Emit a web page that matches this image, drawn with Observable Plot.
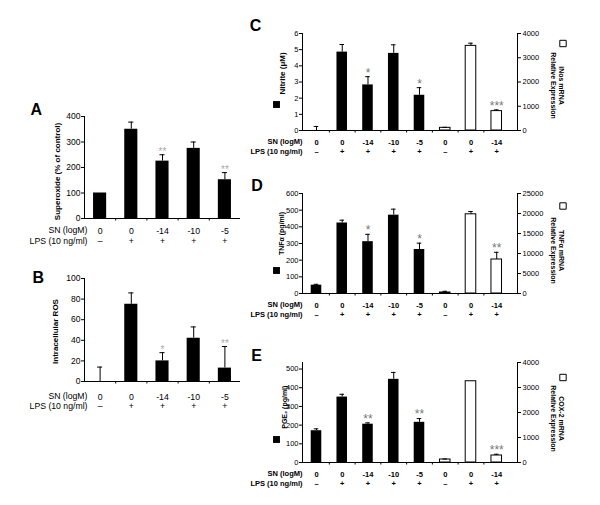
<!DOCTYPE html>
<html><head><meta charset="utf-8">
<script src="https://cdn.jsdelivr.net/npm/d3@7"></script>
<script src="https://cdn.jsdelivr.net/npm/@observablehq/plot@0.6"></script>
<style>
body{margin:0;background:#fff}
#fig{position:relative;width:600px;height:505px;overflow:hidden;background:#fff}
</style></head><body><div id="fig"></div>
<script>
// ---------- data ----------
const snAB = ["0", "0", "-14", "-10", "-5"];
const lpsAB = ["–", "+", "+", "+", "+"];
const snCDE = ["0", "0", "-14", "-10", "-5", "0", "0", "-14"];
const lpsCDE = ["–", "+", "+", "+", "+", "–", "+", "+"];

// A: Superoxide (% of control)
const superoxide = [100, 350, 225, 275, 152];
const superoxideErr = [null, 378, 250, 300, 180];
const superoxideSig = ["", "", "**", "", "**"];
const ticksA = [0, 100, 200, 300, 400];

// B: Intracellular ROS
const ros = [0, 75, 20, 42, 13];
const rosErr = [14, 86, 28, 53, 34];
const rosSig = ["", "", "*", "", "**"];
const ticksB = [0, 20, 40, 60, 80, 100];

// C: Nitrite (black) and iNos mRNA (white)
const nitrite = [0, 4.85, 2.82, 4.77, 2.18];
const nitriteErr = [0.25, 5.32, 3.33, 5.3, 2.65];
const nitriteSig = ["", "", "*", "", "*"];
const inos = [110, 3490, 800];
const inosErr = [130, 3600, 850];
const inosSig = ["", "", "***"];
const ticksCL = [0, 1, 2, 3, 4, 5, 6];
const ticksCR = [0, 1000, 2000, 3000, 4000];

// D: TNFα (black) and TNFα mRNA (white)
const tnf = [50, 423, 311, 470, 264];
const tnfErr = [55, 440, 355, 506, 302];
const tnfSig = ["", "", "*", "", "*"];
const tnfMrna = [250, 19800, 8500];
const tnfMrnaErr = [550, 20500, 10300];
const tnfMrnaSig = ["", "", "**"];
const ticksDL = [0, 100, 200, 300, 400, 500, 600];
const ticksDR = [0, 5000, 10000, 15000, 20000, 25000];

// E: PGE2 (black) and COX-2 mRNA (white)
const pge2 = [170, 350, 205, 445, 215];
const pge2Err = [180, 365, 212, 482, 235];
const pge2Sig = ["", "", "**", "", "**"];
const cox2 = [120, 3250, 280];
const cox2Err = [140, null, 330];
const cox2Sig = ["", "", "***"];
const ticksEL = [0, 100, 200, 300, 400, 500];
const ticksER = [0, 1000, 2000, 3000, 4000];

// ---------- helpers ----------
const FONT = "'Liberation Sans', Arial, Helvetica, sans-serif";
const fig = document.getElementById("fig");

function rowsOf(vals, errs, sigs, offset) {
  return vals.map((v, k) => ({i: offset + k, v, e: errs[k], s: sigs[k]}));
}

function place(svg, left, top) {
  svg.style.position = "absolute";
  svg.style.left = left + "px";
  svg.style.top = top + "px";
  svg.style.background = "transparent";
  svg.style.overflow = "visible";
  svg.style.maxWidth = "none";
  fig.appendChild(svg);
}

function xScale(g) {
  return {type: "band", domain: d3.range(g.n), paddingInner: g.pi, paddingOuter: g.po, align: g.align, round: false};
}

const plain = d => String(d);

function leftPanel(g, p) {
  const idx = d3.range(g.n);
  const step = (g.width - g.ml - g.mr) / (g.n - g.pi + 2 * g.po);
  const frameH = g.height - g.mt - g.mb;
  const rows = p.rows;
  const withErr = rows.filter(d => d.e != null);
  const marks = [
    Plot.barY(rows, {x: "i", y: "v", fill: "black"}),
    Plot.ruleX(withErr, {x: "i", y1: "v", y2: "e", stroke: "black", strokeWidth: 1}),
    Plot.tickY(withErr, {x: "i", y: "e", stroke: "black", strokeWidth: 1, inset: g.capInset}),
    Plot.text(rows.filter(d => d.s), {x: "i", y: d => d.e ?? d.v, text: "s", fontSize: g.sigSize, fill: g.sigColor, dy: g.sigDy}),
    Plot.ruleY([0], {stroke: "black"}),
    Plot.frame({anchor: "left", stroke: "black"}),
    Plot.axisY({ticks: p.ticks, tickFormat: plain, tickSize: 3, tickPadding: 1, label: null, fontSize: g.tickFs, fill: "black"}),
    Plot.tickX(idx.slice(1), {x: d => d, dx: -step / 2, insetTop: frameH, insetBottom: -2.5, stroke: "black"}),
    Plot.axisX({ticks: idx, tickSize: 0, tickPadding: g.snPad, tickFormat: i => p.sn[i], label: null, fontSize: g.rowFs, fontWeight: g.rowWeight, fill: "black"}),
    Plot.axisX({ticks: idx, tickSize: 0, tickPadding: g.lpsPad, tickFormat: i => p.lps[i], label: null, fontSize: g.rowFs, fontWeight: g.rowWeight, fill: "black"}),
    Plot.text(["SN (logM)"], {text: d => d, frameAnchor: "bottom-left", textAnchor: "end", lineAnchor: "middle", dx: g.hdrDx, dy: g.snDy, fontSize: g.rowFs, fontWeight: g.rowWeight, fill: "black"}),
    Plot.text(["LPS (10 ng/ml)"], {text: d => d, frameAnchor: "bottom-left", textAnchor: "end", lineAnchor: "middle", dx: g.hdrDx, dy: g.lpsDy, fontSize: g.rowFs, fontWeight: g.rowWeight, fill: "black"}),
    Plot.text([p.title], {text: d => d, frameAnchor: p.titleAnchor, textAnchor: "middle", lineAnchor: "middle", rotate: -90, dx: p.titleDx, dy: p.titleDy, fontSize: g.titleFs, fontWeight: "bold", fill: "black"}),
    Plot.text([p.letter], {text: d => d, frameAnchor: "top-left", textAnchor: "start", lineAnchor: "middle", dx: p.letterDx, dy: p.letterDy, fontSize: 16, fontWeight: "bold", fill: "black"})
  ];
  if (p.square) {
    marks.push(Plot.dot([0], {frameAnchor: "top-left", symbol: "square", r: 3.9, fill: "black", stroke: "none", dx: p.square[0], dy: p.square[1]}));
  }
  const svg = Plot.plot({
    width: g.width, height: g.height,
    marginLeft: g.ml, marginRight: g.mr, marginTop: g.mt, marginBottom: g.mb,
    style: {fontFamily: FONT, fontSize: g.tickFs + "px", color: "black"},
    x: xScale(g),
    y: {domain: p.domain},
    marks
  });
  place(svg, g.left, g.top);
}

function rightPanel(g, p) {
  const rows = p.rows;
  const withErr = rows.filter(d => d.e != null);
  const svg = Plot.plot({
    width: g.width, height: g.height,
    marginLeft: g.ml, marginRight: g.mr, marginTop: g.mt, marginBottom: g.mb,
    style: {fontFamily: FONT, fontSize: g.tickFs + "px", color: "black"},
    x: {...xScale(g), axis: null},
    y: {domain: p.domain},
    marks: [
      Plot.barY(rows, {x: "i", y: "v", fill: "white", stroke: "black", strokeWidth: 1}),
      Plot.ruleX(withErr, {x: "i", y1: "v", y2: "e", stroke: "black"}),
      Plot.tickY(withErr, {x: "i", y: "e", stroke: "black", inset: g.capInset}),
      Plot.text(rows.filter(d => d.s), {x: "i", y: d => d.e ?? d.v, text: "s", fontSize: g.sigSize, fill: g.sigColor, dy: g.sigDy}),
      Plot.frame({anchor: "right", stroke: "black"}),
      Plot.axisY({anchor: "right", ticks: p.ticks, tickFormat: plain, tickSize: 3, tickPadding: 2, label: null, fontSize: g.tickFs, fill: "black"}),
      Plot.dot([0], {frameAnchor: "top-right", symbol: "square", r: 3.6, fill: "white", stroke: "black", strokeWidth: 1, dx: p.square[0], dy: p.square[1]}),
      Plot.text([p.title], {text: d => d, frameAnchor: "top-right", textAnchor: "middle", lineAnchor: "middle", rotate: 90, lineHeight: 1.15, dx: p.titleDx, dy: p.titleDy, fontSize: 7, fontWeight: "bold", fill: "black"})
    ]
  });
  place(svg, g.left, g.top);
}

// ---------- geometry ----------
const geoAB = {n: 5, width: 250, ml: 84, mr: 10, pi: 0.58, po: 0.29, align: 0.5,
  capInset: 4, sigSize: 10, sigColor: "#aaa", sigDy: -3, tickFs: 8.5, rowFs: 8.7, rowWeight: "normal",
  titleFs: 8, hdrDx: 3};
const geoCDE = {n: 8, left: 240, width: 360, ml: 62, mr: 83, mb: 35, pi: 0.59, po: 0.47, align: 0.36,
  capInset: 3, sigSize: 12, sigColor: "#777", sigDy: -4, tickFs: 7.5, rowFs: 7.5, rowWeight: "bold",
  titleFs: 7.5, hdrDx: 0, snPad: 8.8, lpsPad: 18.2, snDy: 11.5, lpsDy: 21};

// Panel A
leftPanel({...geoAB, left: 0, top: 90, height: 160, mt: 26, mb: 32, snPad: 8.9, lpsPad: 19.7, snDy: 12, lpsDy: 23}, {
  rows: rowsOf(superoxide, superoxideErr, superoxideSig, 0), domain: [0, 400], ticks: ticksA,
  sn: snAB, lps: lpsAB, title: "Superoxide (% of control)", titleAnchor: "left", titleDx: -27.3, titleDy: 4,
  letter: "A", letterDx: -54, letterDy: -7
});
// Panel B
leftPanel({...geoAB, left: 0, top: 262, height: 151, mt: 16, mb: 32, snPad: 11.9, lpsPad: 21.7, snDy: 15, lpsDy: 25}, {
  rows: rowsOf(ros, rosErr, rosSig, 0), domain: [0, 100], ticks: ticksB,
  sn: snAB, lps: lpsAB, title: "Intracellular ROS", titleAnchor: "left", titleDx: -29, titleDy: 1.5,
  letter: "B", letterDx: -52, letterDy: -0.5
});

// Panel C
const gC = {...geoCDE, top: 5, height: 160, mt: 28};
leftPanel({...gC, titleFs: 8}, {
  rows: rowsOf(nitrite, nitriteErr, nitriteSig, 0), domain: [0, 6], ticks: ticksCL,
  sn: snCDE, lps: lpsCDE, title: "Nitrite (μM)", titleAnchor: "top-left", titleDx: -20.3, titleDy: 40,
  letter: "C", letterDx: -52.7, letterDy: -7.5, square: [-26, 71]
});
rightPanel(gC, {
  rows: rowsOf(inos, inosErr, inosSig, 5), domain: [0, 4000], ticks: ticksCR,
  square: [45.5, 10], title: "iNos mRNA\nRelative Expression", titleDx: 40, titleDy: 52
});

// Panel D
const gD = {...geoCDE, top: 165, height: 163, mt: 28};
leftPanel({...gD, titleFs: 7}, {
  rows: rowsOf(tnf, tnfErr, tnfSig, 0), domain: [0, 600], ticks: ticksDL,
  sn: snCDE, lps: lpsCDE, title: "TNFα (pg/ml)", titleAnchor: "top-left", titleDx: -20.3, titleDy: 40,
  letter: "D", letterDx: -51.3, letterDy: -7.7, square: [-26, 77]
});
rightPanel(gD, {
  rows: rowsOf(tnfMrna, tnfMrnaErr, tnfMrnaSig, 5), domain: [0, 25000], ticks: ticksDR,
  square: [45.5, 12.5], title: "TNFα mRNA\nRelative Expression", titleDx: 40, titleDy: 57
});

// Panel E
const gE = {...geoCDE, top: 335, height: 162, mt: 27};
leftPanel({...gE, titleFs: 7}, {
  rows: rowsOf(pge2, pge2Err, pge2Sig, 0), domain: [0, 535], ticks: ticksEL,
  sn: snCDE, lps: lpsCDE, title: "PGE₂ (pg/ml)", titleAnchor: "top-left", titleDx: -17.5, titleDy: 44.7,
  letter: "E", letterDx: -51.3, letterDy: -7, square: [-26, 77]
});
rightPanel(gE, {
  rows: rowsOf(cox2, cox2Err, cox2Sig, 5), domain: [0, 4000], ticks: ticksER,
  square: [45.5, 15], title: "COX-2 mRNA\nRelative Expression", titleDx: 40, titleDy: 56
});
</script>
</body></html>
